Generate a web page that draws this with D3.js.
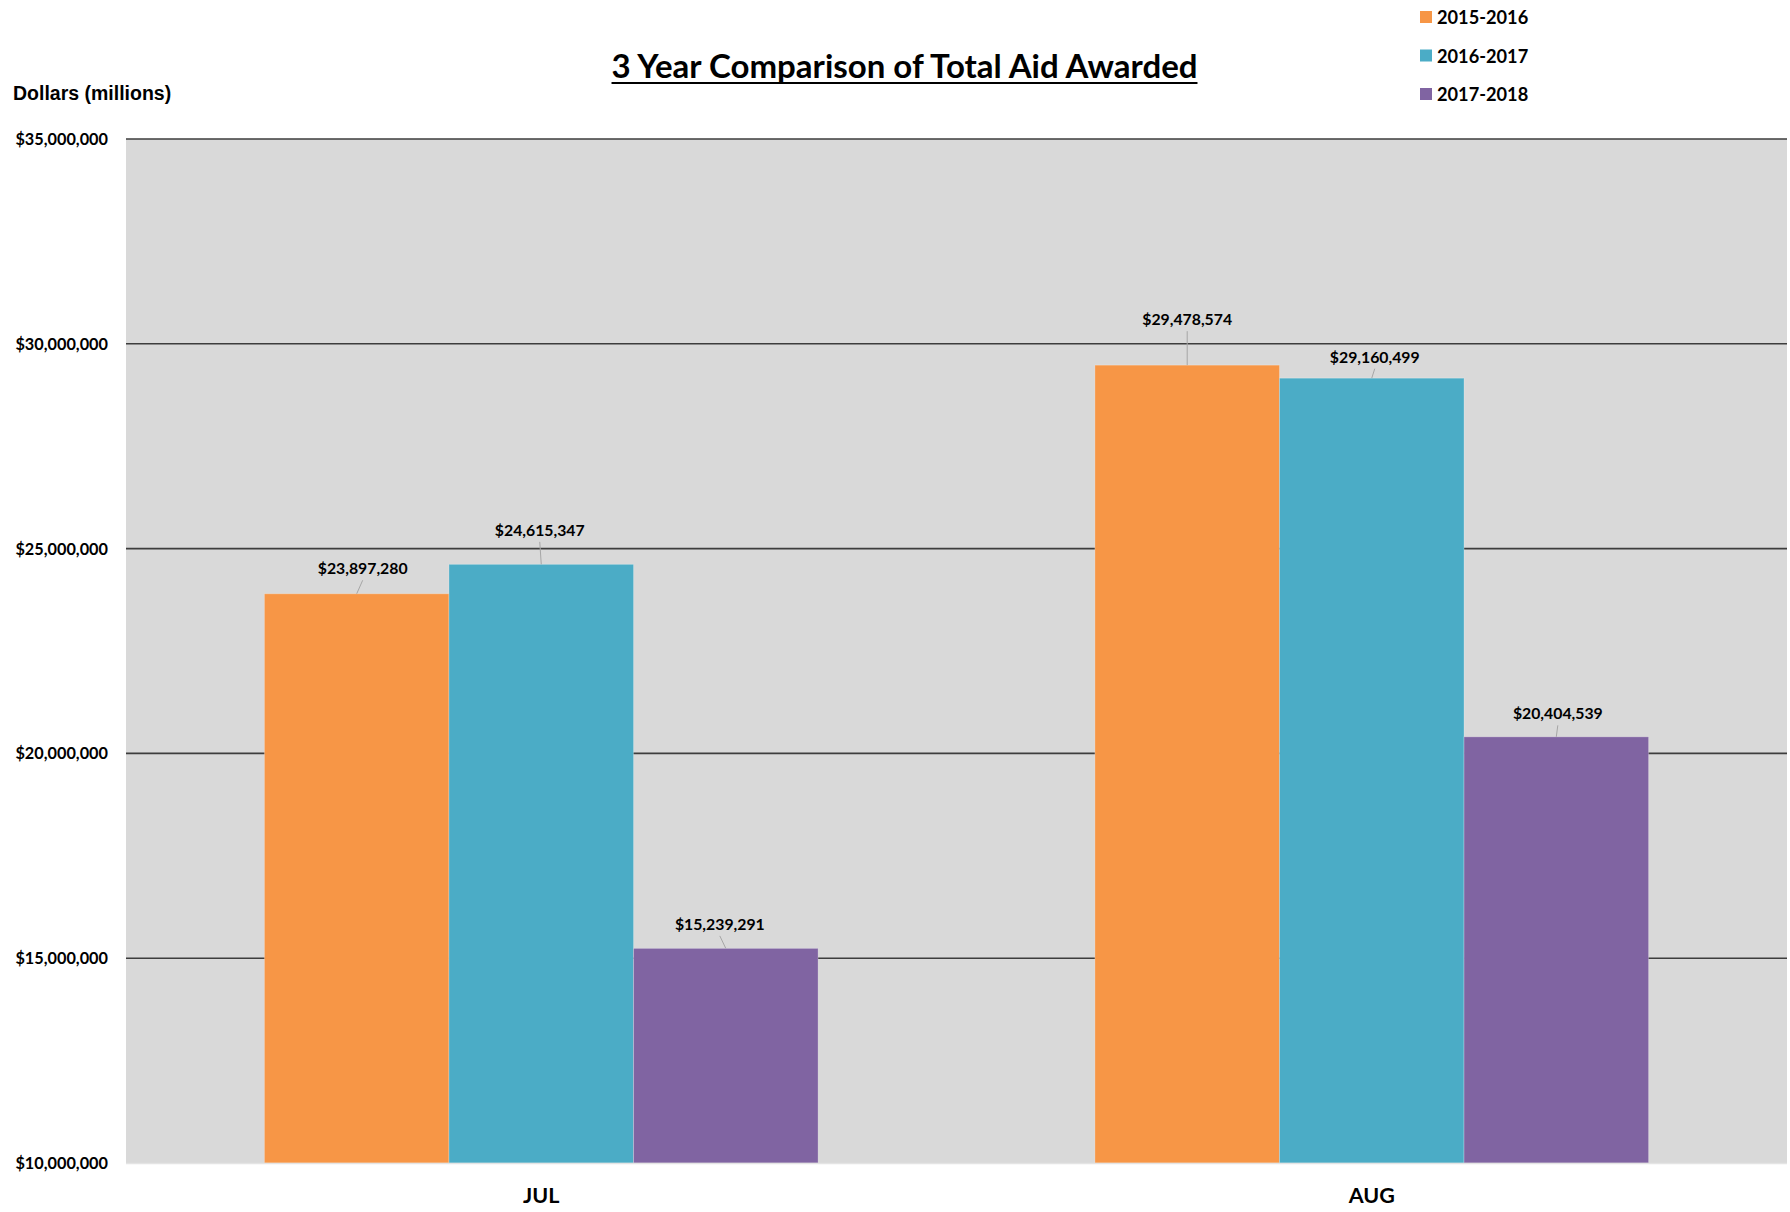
<!DOCTYPE html>
<html>
<head>
<meta charset="utf-8">
<script src="https://cdn.jsdelivr.net/npm/d3@7"></script>
<style>
  html, body { margin: 0; padding: 0; background: #ffffff; }
  svg { display: block; }
  text { fill: #000; }
</style>
</head>
<body>
<svg id="chart" width="1790" height="1212"></svg>
<script>
// Months shown on the x axis
const months = ["JUL", "AUG"];
// Aid-year series
const seriesNames = ["2015-2016", "2016-2017", "2017-2018"];
// Total aid awarded per month, one array per aid year
const aid2015_2016 = [23897280, 29478574];
const aid2016_2017 = [24615347, 29160499];
const aid2017_2018 = [15239291, 20404539];
// Value axis ticks
const yTickValues = [10000000, 15000000, 20000000, 25000000, 30000000, 35000000];

const seriesValues = [aid2015_2016, aid2016_2017, aid2017_2018];
const seriesColors = ["#F79646", "#4BACC6", "#8064A2"];

// Manual nudges for the data-label callouts [month][series] -> [dx, dy] from bar top centre
const labelNudge = [
  [[6, -26], [-1.5, -35], [-6, -25]],
  [[0, -46.5], [3, -22], [1.5, -24]]
];

const svg = d3.select("#chart");
const plot = { left: 126, right: 1787, top: 139, bottom: 1163 };
const calibriLike = "Lato, 'Open Sans', sans-serif";

const y = d3.scaleLinear()
  .domain([d3.min(yTickValues), d3.max(yTickValues)])
  .range([plot.bottom, plot.top]);

const x0 = d3.scaleBand().domain(months).range([plot.left, plot.right]).padding(0);
const x1 = d3.scaleBand().domain(seriesNames).range([0, x0.bandwidth()])
  .paddingInner(0).paddingOuter(0.75);

// Plot background
svg.append("rect")
  .attr("x", plot.left).attr("y", plot.top)
  .attr("width", plot.right - plot.left).attr("height", plot.bottom - plot.top)
  .attr("fill", "#D9D9D9");

// Gridlines (the baseline is drawn separately in a light tone)
svg.append("g").selectAll("line")
  .data(yTickValues.filter(v => v !== d3.min(yTickValues)))
  .join("line")
  .attr("x1", plot.left).attr("x2", plot.right)
  .attr("y1", d => y(d)).attr("y2", d => y(d))
  .attr("stroke", "#3d3d3d").attr("stroke-width", 1.6);

// Bars
const rows = months.map((m, i) => ({
  month: m,
  bars: seriesNames.map((s, j) => ({ month: m, series: s, mi: i, si: j, value: seriesValues[j][i] }))
}));

const groups = svg.append("g").selectAll("g")
  .data(rows).join("g")
  .attr("transform", d => `translate(${x0(d.month)},0)`);

groups.selectAll("rect")
  .data(d => d.bars).join("rect")
  .attr("x", d => x1(d.series))
  .attr("y", d => y(d.value))
  .attr("width", x1.bandwidth())
  .attr("height", d => y(d3.min(yTickValues)) - y(d.value))
  .attr("fill", d => seriesColors[d.si])
  .attr("stroke", "rgba(255,255,255,0.25)")
  .attr("stroke-width", 1);

// Bottom axis line
svg.append("line")
  .attr("x1", plot.left).attr("x2", plot.right)
  .attr("y1", plot.bottom + 0.5).attr("y2", plot.bottom + 0.5)
  .attr("stroke", "#e4e4e4").attr("stroke-width", 1.5);

// Data labels with leader lines
const allBars = rows.flatMap(r => r.bars);
const fmt = d3.format("$,.0f");
const labelG = svg.append("g");
allBars.forEach(d => {
  const cx = x0(d.month) + x1(d.series) + x1.bandwidth() / 2;
  const top = y(d.value);
  const [dx, dy] = labelNudge[d.mi][d.si];
  const lx = cx + dx, ly = top + dy;
  labelG.append("line")
    .attr("x1", lx).attr("y1", ly + 12.5)
    .attr("x2", cx).attr("y2", top)
    .attr("stroke", "#a6a6a6").attr("stroke-width", 1);
  labelG.append("text")
    .attr("x", lx).attr("y", ly)
    .attr("text-anchor", "middle")
    .attr("dominant-baseline", "central")
    .style("font-family", calibriLike)
    .style("font-weight", 700)
    .style("font-size", "15.8px")
    .text(fmt(d.value));
});

// Y axis labels
const yAxis = d3.axisLeft(y).tickValues(yTickValues).tickSize(0).tickPadding(0).tickFormat(fmt);
const yAxisG = svg.append("g").attr("transform", "translate(108,0)").call(yAxis);
yAxisG.select(".domain").remove();
yAxisG.selectAll("text")
  .attr("dy", "0.34em")
  .style("font-family", calibriLike)
  .style("font-weight", 700)
  .style("font-size", "16.3px")
  .style("fill", "#000");

// X axis labels
const xAxis = d3.axisBottom(x0).tickSize(0).tickPadding(0);
const xAxisG = svg.append("g").attr("transform", `translate(0,${plot.bottom})`).call(xAxis);
xAxisG.select(".domain").remove();
xAxisG.selectAll("text")
  .attr("y", 39.5).attr("dy", 0)
  .style("font-family", calibriLike)
  .style("font-weight", 700)
  .style("font-size", "21.5px")
  .style("fill", "#000");

// Axis title
svg.append("text")
  .attr("x", 13).attr("y", 100)
  .style("font-family", "'Liberation Sans', Arial, sans-serif")
  .style("font-weight", 700)
  .style("font-size", "19.5px")
  .text("Dollars (millions)");

// Chart title with underline
const title = svg.append("text")
  .attr("x", 904.5).attr("y", 78)
  .attr("text-anchor", "middle")
  .style("font-family", calibriLike)
  .style("font-weight", 700)
  .style("font-size", "33px")
  .text("3 Year Comparison of Total Aid Awarded");
const tb = title.node().getBBox();
svg.append("line")
  .attr("x1", tb.x).attr("x2", tb.x + tb.width)
  .attr("y1", 83).attr("y2", 83)
  .attr("stroke", "#000").attr("stroke-width", 2.2);

// Legend
const legend = svg.append("g").selectAll("g")
  .data(seriesNames).join("g")
  .attr("transform", (d, i) => `translate(1420,${17 + i * 38.5})`);
legend.append("rect")
  .attr("x", 0).attr("y", -6).attr("width", 12).attr("height", 12)
  .attr("fill", (d, i) => seriesColors[i]);
legend.append("text")
  .attr("x", 17).attr("y", 0)
  .attr("dominant-baseline", "central")
  .style("font-family", calibriLike)
  .style("font-weight", 700)
  .style("font-size", "18.2px")
  .text(d => d);
</script>
</body>
</html>
